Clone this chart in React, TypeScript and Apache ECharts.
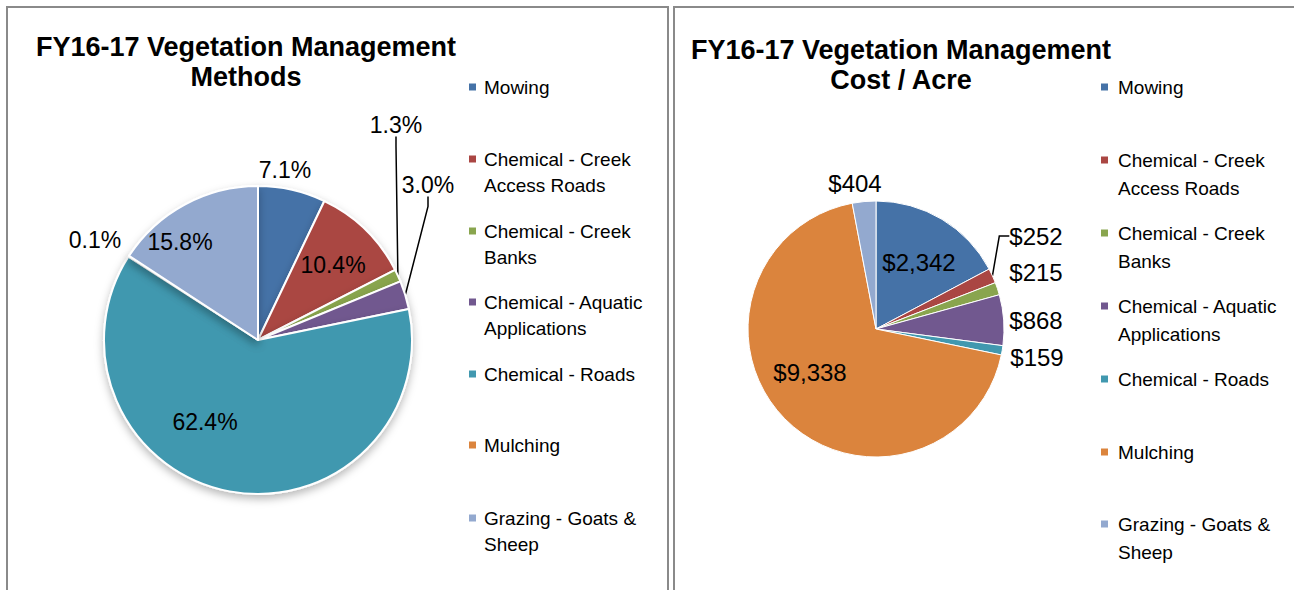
import React, { useEffect, useRef } from "react";
import * as echarts from "echarts";

// ---- data ----
const categories = [
  "Mowing",
  "Chemical - Creek Access Roads",
  "Chemical - Creek Banks",
  "Chemical - Aquatic Applications",
  "Chemical - Roads",
  "Mulching",
  "Grazing - Goats & Sheep",
];
const legendLines = [
  ["Mowing"],
  ["Chemical - Creek", "Access Roads"],
  ["Chemical - Creek", "Banks"],
  ["Chemical - Aquatic", "Applications"],
  ["Chemical - Roads"],
  ["Mulching"],
  ["Grazing - Goats &", "Sheep"],
];
const methodsPct = [7.1, 10.4, 1.3, 3.0, 62.4, 0.1, 15.8];
const costPerAcre = [2342, 252, 215, 868, 159, 9338, 404];
const titleLeft = "FY16-17 Vegetation Management\nMethods";
const titleRight = "FY16-17 Vegetation Management\nCost / Acre";

// ---- styles ----
const colors = ["#4572A7", "#AA4643", "#89A54E", "#71588F", "#4198AF", "#DB843D", "#93A9CF"];
const leftLabelPos = [[285, 170], [333, 265], [396, 125], [428, 185], [205, 422], [95, 240], [180, 242]];
const rightLabelPos = [[919, 262], [1036, 236], [1036, 272], [1036, 320], [1037, 357], [810, 372], [855, 183]];
const leftLine = [false, false, true, true, false, false, false];
const rightLine = [false, true, false, false, false, false, false];
const leftLegendY = [87, 159, 231, 302, 374, 445, 518];
const rightLegendY = [87, 160, 233, 306, 379, 452, 524];

const SANS = "'Liberation Sans', Arial, sans-serif";

function makeLegends(x: number, ys: number[], L: number, padLeft: number) {
  return categories.map((name, i) => {
    const lines = legendLines[i];
    const twoLine = lines.length > 1;
    // two-line items: a blank line on top keeps the first line level with the marker
    const text = twoLine ? " \n" + lines.join("\n") : lines[0];
    return {
      orient: "vertical",
      left: x,
      top: twoLine ? ys[i] - 1.5 * L : ys[i] - L / 2,
      padding: 0,
      itemWidth: 9,
      itemHeight: 9,
      icon: "rect",
      selectedMode: false,
      data: [name],
      formatter: () => text,
      textStyle: {
        fontFamily: SANS,
        fontSize: 19,
        color: "#000",
        lineHeight: L,
        padding: [0, 0, 0, padLeft],
      },
    };
  });
}

export default function App() {
  const ref = useRef<HTMLDivElement>(null);
  useEffect(() => {
    if (!ref.current) return;
    const chart = echarts.init(ref.current, undefined, { renderer: "svg" });
    const leftData = categories.map((name, i) => ({
      name,
      value: methodsPct[i],
      itemStyle: { color: colors[i] },
      labelLine: { show: leftLine[i] },
    }));
    const rightData = categories.map((name, i) => ({
      name,
      value: costPerAcre[i],
      itemStyle: { color: colors[i] },
      labelLine: { show: rightLine[i] },
    }));
    chart.setOption({
      animation: false,
      backgroundColor: "#fff",
      title: [
        {
          text: titleLeft,
          left: 246,
          top: 32,
          padding: 0,
          textAlign: "center",
          textStyle: { fontFamily: SANS, fontWeight: "bold", fontSize: 27, lineHeight: 30, color: "#000" },
        },
        {
          text: titleRight,
          left: 901,
          top: 35,
          padding: 0,
          textAlign: "center",
          textStyle: { fontFamily: SANS, fontWeight: "bold", fontSize: 27, lineHeight: 30, color: "#000" },
        },
      ],
      legend: [...makeLegends(467, leftLegendY, 26.5, 2), ...makeLegends(1099, rightLegendY, 28, 4)],
      graphic: [
        { type: "rect", shape: { x: 7, y: 7, width: 661, height: 620 }, style: { fill: "none", stroke: "#8a8a8a", lineWidth: 2 }, silent: true },
        { type: "rect", shape: { x: 674, y: 7, width: 660, height: 620 }, style: { fill: "none", stroke: "#8a8a8a", lineWidth: 2 }, silent: true },
      ],
      series: [
        {
          type: "pie",
          center: [258, 340],
          radius: 154,
          startAngle: 90,
          clockwise: true,
          avoidLabelOverlap: false,
          data: leftData,
          itemStyle: {
            borderColor: "#fff",
            borderWidth: 2,
            shadowBlur: 8,
            shadowOffsetY: 4,
            shadowColor: "rgba(0,0,0,0.28)",
          },
          label: {
            fontFamily: SANS,
            fontSize: 23,
            color: "#000",
            formatter: (p: any) => p.value.toFixed(1) + "%",
          },
          labelLine: { lineStyle: { color: "#000", width: 1.5 }, length: 10, length2: 10 },
          labelLayout: (p: any) => {
            const pos = leftLabelPos[p.dataIndex];
            return { x: pos[0], y: pos[1], align: "center", verticalAlign: "middle" };
          },
          emphasis: { disabled: true },
        },
        {
          type: "pie",
          center: [876, 329],
          radius: 128,
          startAngle: 90,
          clockwise: true,
          avoidLabelOverlap: false,
          data: rightData,
          itemStyle: { borderColor: "#fff", borderWidth: 1 },
          label: {
            fontFamily: SANS,
            fontSize: 24,
            color: "#000",
            formatter: (p: any) => "$" + p.value.toLocaleString("en-US"),
          },
          labelLine: { lineStyle: { color: "#000", width: 1.5 }, length: 10, length2: 10 },
          labelLayout: (p: any) => {
            const pos = rightLabelPos[p.dataIndex];
            return { x: pos[0], y: pos[1], align: "center", verticalAlign: "middle" };
          },
          emphasis: { disabled: true },
        },
      ],
    });
    return () => chart.dispose();
  }, []);
  return <div ref={ref} style={{ position: "fixed", left: 0, top: 0, width: 1294, height: 590 }} />;
}
